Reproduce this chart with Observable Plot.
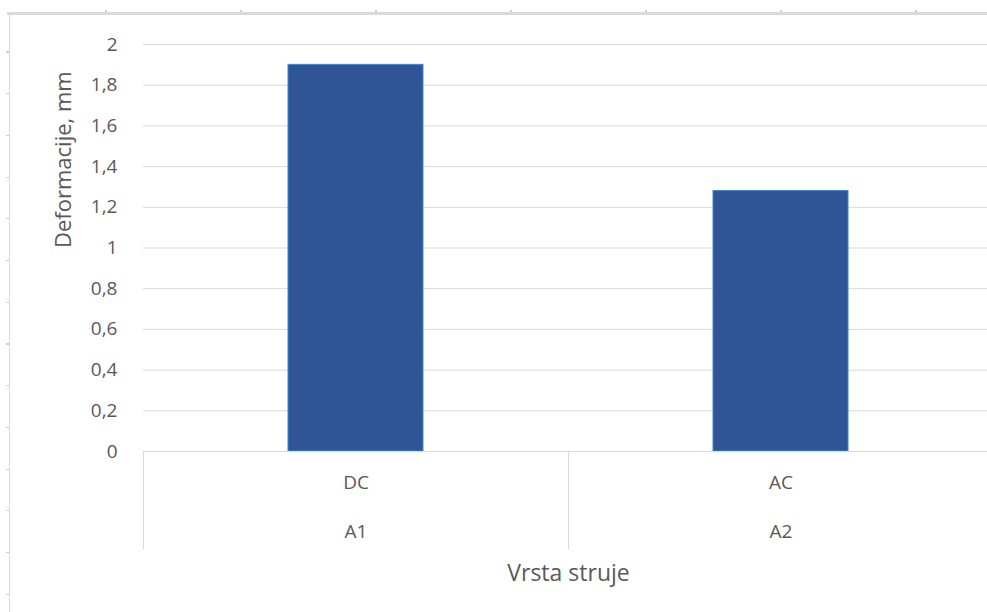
<!DOCTYPE html>
<html><head><meta charset="utf-8">
<script src="https://cdn.jsdelivr.net/npm/d3@7"></script>
<script src="https://cdn.jsdelivr.net/npm/@observablehq/plot@0.6"></script>
<style>
html,body{margin:0;padding:0;background:#fff;overflow:hidden;width:987px;height:612px;}
#deco-top{position:absolute;left:7px;top:12px;width:980px;height:3px;background:#dadada;}
#deco-topticks{position:absolute;left:0;top:10px;width:987px;height:2px;
  background:repeating-linear-gradient(to right,transparent 0 105px,#cfcfcf 105px 107px,transparent 107px 135px);}
#deco-left{position:absolute;left:9px;top:13px;width:1px;height:599px;background:#d9d9d9;}
#deco-leftticks{position:absolute;left:6px;top:11px;width:3px;height:601px;
  background:repeating-linear-gradient(to bottom,transparent 0 40.5px,#d0d0d0 40.5px 41.7px,transparent 41.7px 40.7px);}
#chart{position:absolute;left:0;top:0;}
</style></head><body>
<div id="deco-top"></div><div id="deco-topticks"></div><div id="deco-left"></div><div id="deco-leftticks"></div>
<div id="chart"></div>
<script>
const categories = ["DC", "AC"];
const groups = ["A1", "A2"];
const values = [1.9, 1.28];
const yTicks = [0, 0.2, 0.4, 0.6, 0.8, 1, 1.2, 1.4, 1.6, 1.8, 2];
const yLabel = "Deformacije, mm";
const xLabel = "Vrsta struje";

const data = categories.map((c, i) => ({cat: c, group: groups[i], value: values[i]}));
const fmt = d => String(d).replace(".", ",");
const W = 987, H = 612, mL = 143, mR = -6;
const step = (W - mL - mR) / categories.length;
const txt = "#595959", grid = "#d9d9d9";

const plot = Plot.plot({
  width: W, height: H,
  marginTop: 44, marginBottom: 161, marginLeft: mL, marginRight: mR,
  style: {background: "transparent", fontFamily: "'Open Sans', sans-serif", color: txt, maxWidth: "none"},
  x: {domain: categories, paddingInner: 0.682, paddingOuter: 0.341, axis: null},
  y: {domain: [0, 2], axis: null},
  marks: [
    Plot.gridY(yTicks.filter(d => d > 0), {stroke: grid, strokeOpacity: 1, strokeWidth: 1}),
    Plot.axisY(yTicks, {tickSize: 0, tickPadding: 26, tickFormat: fmt, fontSize: 19, fill: txt, label: null}),
    Plot.barY(data, {x: "cat", y: "value", fill: "#2f5597", stroke: "#3f87d6", strokeWidth: 1}),
    Plot.ruleY([0], {stroke: grid, strokeWidth: 1}),
    Plot.axisX({tickSize: 98, tickFormat: () => "", dx: -step / 2, stroke: grid, strokeOpacity: 1, label: null}),
    Plot.text(data, {x: "cat", text: "cat", frameAnchor: "bottom", dy: 37, fontSize: 19, fill: txt}),
    Plot.text(data, {x: "cat", text: "group", frameAnchor: "bottom", dy: 86, fontSize: 19, fill: txt}),
    Plot.text([xLabel], {text: d => d, frameAnchor: "bottom", dy: 129, fontSize: 23, fill: txt}),
    Plot.text([yLabel], {text: d => d, frameAnchor: "left", dx: -80, rotate: -90, fontSize: 22, fill: txt})
  ]
});
document.getElementById("chart").appendChild(plot);
</script>
</body></html>
